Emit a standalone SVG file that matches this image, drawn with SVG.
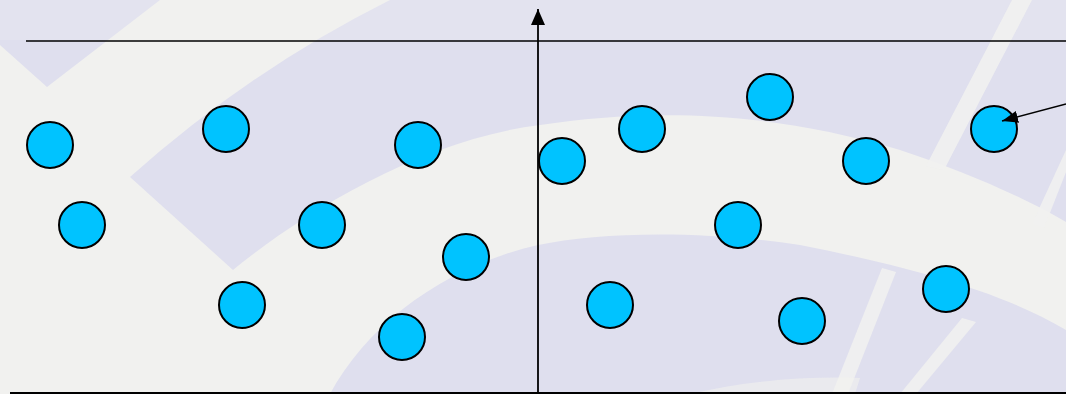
<svg xmlns="http://www.w3.org/2000/svg" width="1066" height="394" viewBox="0 0 1066 394">
  <defs>
    <style>
      .dot { fill: #00c3ff; stroke: #000; stroke-width: 2; }
      .ln { stroke: #000; fill: none; }
      .bgW { fill: #f1f1ef; }
      .bgL { fill: #dfdfee; }
    </style>
    <marker id="ah" viewBox="0 0 16 14" refX="16" refY="7" markerWidth="16" markerHeight="14" markerUnits="userSpaceOnUse" orient="auto">
      <path d="M0,0 L16,7 L0,14 Z" fill="#000"/>
    </marker>
    <marker id="ah2" viewBox="0 0 16 12" refX="16" refY="6" markerWidth="16" markerHeight="12" markerUnits="userSpaceOnUse" orient="auto">
      <path d="M0,0 L16,6 L0,12 Z" fill="#000"/>
    </marker>
  </defs>

  <g id="background">
    <rect width="1066" height="394" fill="#dfdfee"/>
    <rect width="1066" height="40" fill="#e4e4ef" opacity="0.7"/>
    <!-- light wedge top-left -->
    <path class="bgW" d="M0,45 L47,87 L160,0 L390,0 Q250,70 130,177 L233,270 C300,215 420,140 540,125 C640,110 760,108 900,150 C960,170 1020,195 1066,222 L1066,330 C1000,290 900,265 800,245 C700,230 600,232 538,245 C450,265 370,320 330,394 L0,394 Z"/>
    <!-- radial light stripes -->
    <path class="bgW" d="M1012,0 L1032,0 L944,170 L926,166 Z" opacity="0.9"/>
    <path class="bgW" d="M1066,150 L1066,172 L1044,228 L1032,224 Z" opacity="0.9"/>
    <path class="bgW" d="M882,268 L896,272 L848,394 L832,394 Z" opacity="0.9"/>
    <path class="bgW" d="M962,318 L976,322 L916,394 L900,394 Z" opacity="0.9"/>
    <path class="bgW" d="M690,394 C740,382 800,376 860,378 L855,394 Z" opacity="0.6"/>
  </g>

  <g id="n1"><circle class="dot" cx="50" cy="145" r="23"/></g>
  <g id="n2"><circle class="dot" cx="226" cy="129" r="23"/></g>
  <g id="n3"><circle class="dot" cx="418" cy="145" r="23"/></g>
  <g id="n4"><circle class="dot" cx="82" cy="225" r="23"/></g>
  <g id="n5"><circle class="dot" cx="322" cy="225" r="23"/></g>
  <g id="n6"><circle class="dot" cx="466" cy="257" r="23"/></g>
  <g id="n7"><circle class="dot" cx="242" cy="305" r="23"/></g>
  <g id="n8"><circle class="dot" cx="402" cy="337" r="23"/></g>
  <g id="n9"><circle class="dot" cx="562" cy="161" r="23"/></g>
  <g id="n10"><circle class="dot" cx="642" cy="129" r="23"/></g>
  <g id="n11"><circle class="dot" cx="770" cy="97" r="23"/></g>
  <g id="n12"><circle class="dot" cx="866" cy="161" r="23"/></g>
  <g id="n13"><circle class="dot" cx="994" cy="129" r="23"/></g>
  <g id="n14"><circle class="dot" cx="738" cy="225" r="23"/></g>
  <g id="n15"><circle class="dot" cx="610" cy="305" r="23"/></g>
  <g id="n16"><circle class="dot" cx="802" cy="321" r="23"/></g>
  <g id="n17"><circle class="dot" cx="946" cy="289" r="23"/></g>

  <g id="connectors">
    <line class="ln" x1="26" y1="41" x2="1066" y2="41" stroke-width="1.5"/>
    <line class="ln" x1="10" y1="393" x2="1066" y2="393" stroke-width="2"/>
    <line class="ln" x1="538" y1="393" x2="538" y2="9" stroke-width="1.8" marker-end="url(#ah)"/>
    <line class="ln" x1="1066" y1="104" x2="1002" y2="121" stroke-width="1.5" marker-end="url(#ah2)"/>
  </g>
</svg>
